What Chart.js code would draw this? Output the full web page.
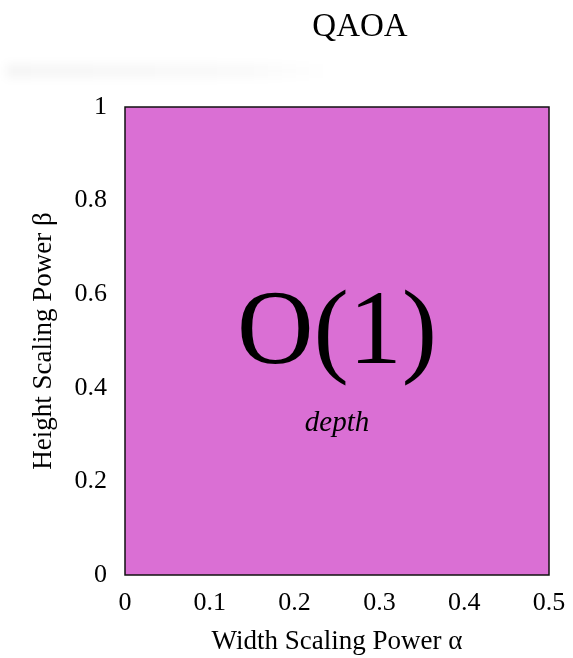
<!DOCTYPE html>
<html>
<head>
<meta charset="utf-8">
<script src="https://cdn.jsdelivr.net/npm/chart.js@4/dist/chart.umd.min.js"></script>
<style>
  html, body { margin: 0; padding: 0; background: #fff; }
  #wrap { width: 573px; height: 658px; position: relative; }
</style>
</head>
<body>
<div id="wrap"><canvas id="phase"></canvas></div>
<script>
// region of the phase diagram (alpha on x, beta on y)
const regionNames = ['O(1)'];
const regionAlpha = [0, 0.5];
const regionBeta = [1, 1];
const regionColors = ['#DA6FD4'];

// labels written inside the region
const labelText = ['O(1)', 'depth'];
const labelAlpha = [0.25, 0.25];
const labelBeta = [0.512, 0.325];
const labelFonts = ['106px "Liberation Serif"', 'italic 29px "Liberation Serif"'];

const xTicks = [0, 0.1, 0.2, 0.3, 0.4, 0.5];
const yTicks = [0, 0.2, 0.4, 0.6, 0.8, 1];

const serif = '"Liberation Serif", "DejaVu Serif", serif';

const decor = {
    id: 'decor',
    beforeDraw(chart) {
        const ctx = chart.ctx;
        // faint smear across the upper left
        ctx.save();
        ctx.filter = 'blur(5px)';
        const g = ctx.createLinearGradient(0, 0, 330, 0);
        g.addColorStop(0, 'rgba(0,0,0,0.04)');
        g.addColorStop(0.75, 'rgba(0,0,0,0.025)');
        g.addColorStop(1, 'rgba(0,0,0,0)');
        ctx.fillStyle = g;
        ctx.fillRect(6, 64, 333, 14);
        ctx.restore();

        // title
        ctx.save();
        ctx.fillStyle = '#000';
        ctx.font = '33px ' + serif;
        ctx.textAlign = 'center';
        ctx.textBaseline = 'alphabetic';
        ctx.fillText('QAOA', 360, 36);
        ctx.restore();
    },
    afterDatasetsDraw(chart) {
        const ctx = chart.ctx;
        const { left, top, right, bottom } = chart.chartArea;
        const xs = chart.scales.x, ys = chart.scales.y;
        ctx.save();
        ctx.fillStyle = '#000';
        ctx.textAlign = 'center';
        ctx.textBaseline = 'middle';
        labelText.forEach((t, i) => {
            ctx.font = labelFonts[i];
            ctx.fillText(t, xs.getPixelForValue(labelAlpha[i]), ys.getPixelForValue(labelBeta[i]));
        });
        // frame round the plot area
        ctx.strokeStyle = '#111';
        ctx.lineWidth = 1.5;
        ctx.strokeRect(left, top, right - left, bottom - top);
        ctx.restore();
    }
};

const plainNumber = (v) => String(Math.round(v * 10) / 10);

new Chart(document.getElementById('phase'), {
    type: 'line',
    data: {
        datasets: [{
            label: regionNames[0],
            data: regionAlpha.map((a, i) => ({ x: a, y: regionBeta[i] })),
            backgroundColor: regionColors[0],
            borderColor: regionColors[0],
            borderWidth: 0,
            fill: 'origin',
            pointRadius: 0,
            tension: 0
        }]
    },
    options: {
        responsive: true,
        maintainAspectRatio: false,
        animation: false,
        events: [],
        layout: { padding: { left: 0, top: 107, right: 24, bottom: 0 } },
        plugins: {
            legend: { display: false },
            tooltip: { enabled: false }
        },
        scales: {
            x: {
                type: 'linear',
                min: 0, max: 0.5,
                afterBuildTicks: (s) => { s.ticks = xTicks.map(v => ({ value: v })); },
                afterFit: (s) => { s.height = 83; s.paddingLeft = 0; s.paddingRight = 0; },
                grid: { display: false, drawTicks: false },
                border: { display: false },
                ticks: { color: '#000', padding: 13, font: { family: serif, size: 26 }, callback: plainNumber },
                title: {
                    display: true, text: 'Width Scaling Power α', color: '#000',
                    font: { family: serif, size: 27 }, padding: { bottom: 0 }
                }
            },
            y: {
                type: 'linear',
                min: 0, max: 1,
                afterBuildTicks: (s) => { s.ticks = yTicks.map(v => ({ value: v })); },
                afterFit: (s) => { s.width = 125; s.paddingTop = 0; s.paddingBottom = 0; },
                grid: { display: false, drawTicks: false },
                border: { display: false },
                ticks: { color: '#000', padding: 18, font: { family: serif, size: 26 }, callback: plainNumber },
                title: {
                    display: true, text: 'Height Scaling Power β', color: '#000',
                    font: { family: serif, size: 27 }, padding: { top: 28 }
                }
            }
        }
    },
    plugins: [decor]
});
</script>
</body>
</html>
